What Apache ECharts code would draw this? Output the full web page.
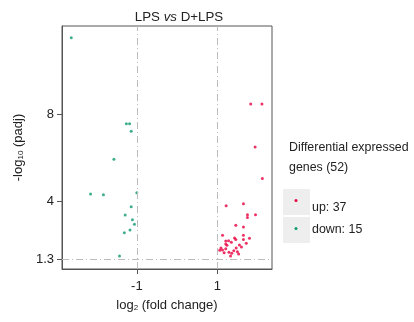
<!DOCTYPE html>
<html>
<head>
<meta charset="utf-8">
<script src="https://cdn.jsdelivr.net/npm/echarts@6/dist/echarts.min.js"></script>
<style>html,body{margin:0;padding:0;background:#fff}#c{width:414px;height:322px}</style>
</head>
<body>
<div id="c"></div>
<script>
// Down-regulated genes (green)
const downX = [-2.63, -1.26, -1.18, -1.14, -1.57, -2.15, -1.83, -1.00, -1.14, -1.29, -1.11, -1.06, -1.17, -1.31, -1.43];
const downY = [11.56, 7.58, 7.58, 7.23, 5.93, 4.32, 4.29, 4.38, 3.73, 3.35, 3.13, 2.92, 2.65, 2.53, 1.45];
// Up-regulated genes (red)
const upX = [1.83, 2.11, 1.94, 2.12, 1.22, 1.65, 1.75, 1.75, 1.95, 1.46, 1.65, 1.13, 1.65, 1.43, 1.46, 1.80, 1.21, 1.28, 1.35, 1.65, 1.21, 1.72, 1.55, 1.47, 1.60, 1.09, 1.13, 1.06, 1.21, 1.29, 1.36, 1.33, 1.53, 1.41, 1.24, 1.50, 1.17];
const upY = [8.49, 8.49, 6.50, 5.04, 3.78, 3.87, 3.36, 3.24, 3.36, 2.87, 2.79, 2.41, 2.41, 2.28, 2.21, 2.27, 2.15, 2.16, 2.09, 2.21, 2.01, 2.04, 1.96, 1.82, 1.87, 1.82, 1.73, 1.72, 1.79, 1.62, 1.58, 1.45, 1.54, 1.70, 1.95, 1.65, 1.60];
const xTicks = [-1, 1];
const yTicks = [1.3, 4, 8];
const fcCut = [-1, 1];
const padjCut = 1.3;

const RED = '#e8003f', GREEN = '#0f9a72';
const FONT = 'Liberation Sans, Arial';
const zip = (a, b) => a.map((v, i) => [v, b[i]]);
const dash = { color: '#bdbdbd', width: 1, type: [7, 3, 1, 3] };

const chart = echarts.init(document.getElementById('c'));
chart.setOption({
  animation: false,
  title: {
    text: 'LPS {it|vs} D+LPS', left: 174, textAlign: 'center', top: 6,
    textStyle: { fontSize: 13.3, fontWeight: 'normal', color: '#222', fontFamily: FONT,
      rich: { it: { fontStyle: 'italic', fontSize: 13.3, color: '#222', fontFamily: FONT } } }
  },
  grid: { left: 62, top: 26, right: 142, bottom: 53, show: true, borderColor: '#555', borderWidth: 1 },
  xAxis: {
    type: 'value', min: -2.86, max: 2.36,
    name: 'log{sub|2} (fold change)', nameLocation: 'middle', nameGap: 29,
    nameTextStyle: { fontSize: 13, color: '#222', fontFamily: FONT,
      rich: { sub: { fontSize: 8, verticalAlign: 'bottom', padding: [6, 0, 0, 0], color: '#222' } } },
    axisLine: { show: true, onZero: false, lineStyle: { color: '#555' } },
    axisTick: { show: true, length: 5, customValues: xTicks, lineStyle: { color: '#555' } },
    axisLabel: { customValues: xTicks, margin: 11, fontSize: 13, color: '#222', fontFamily: FONT },
    splitLine: { show: false }
  },
  yAxis: {
    type: 'value', min: 0.85, max: 12.1,
    name: '-log{sub|10} (padj)', nameLocation: 'middle', nameGap: 33, nameRotate: 90,
    nameTextStyle: { fontSize: 13, color: '#222', fontFamily: FONT,
      rich: { sub: { fontSize: 8, color: '#222', padding: [6, 0, 0, 0] } } },
    axisLine: { show: true, onZero: false, lineStyle: { color: '#555' } },
    axisTick: { show: true, length: 5, customValues: yTicks, lineStyle: { color: '#555' } },
    axisLabel: { customValues: yTicks, margin: 8, fontSize: 13, color: '#222', fontFamily: FONT },
    splitLine: { show: false }
  },
  series: [
    {
      name: 'up', type: 'scatter', symbolSize: 3, itemStyle: { color: RED },
      data: zip(upX, upY),
      markLine: {
        silent: true, symbol: 'none', label: { show: false }, lineStyle: dash,
        data: [{ xAxis: fcCut[0] }, { xAxis: fcCut[1] }, { yAxis: padjCut }]
      }
    },
    { name: 'down', type: 'scatter', symbolSize: 3, itemStyle: { color: GREEN }, data: zip(downX, downY) }
  ],
  graphic: [
    { type: 'text', left: 289, top: 138, style: { text: 'Differential expressed\ngenes (' + (upX.length + downX.length) + ')', fontSize: 12.4, lineHeight: 20, fill: '#222', fontFamily: FONT } },
    { type: 'rect', shape: { x: 283, y: 189, width: 27, height: 26 }, style: { fill: '#eeeeee' } },
    { type: 'rect', shape: { x: 283, y: 217, width: 27, height: 26 }, style: { fill: '#eeeeee' } },
    { type: 'circle', shape: { cx: 296, cy: 200.5, r: 1.5 }, style: { fill: RED } },
    { type: 'circle', shape: { cx: 296, cy: 228.5, r: 1.5 }, style: { fill: GREEN } },
    { type: 'text', left: 312, top: 202, style: { text: 'up: ' + upX.length, fontSize: 12.4, fill: '#222', fontFamily: FONT } },
    { type: 'text', left: 312, top: 224, style: { text: 'down: ' + downX.length, fontSize: 12.4, fill: '#222', fontFamily: FONT } }
  ]
});
</script>
</body>
</html>
